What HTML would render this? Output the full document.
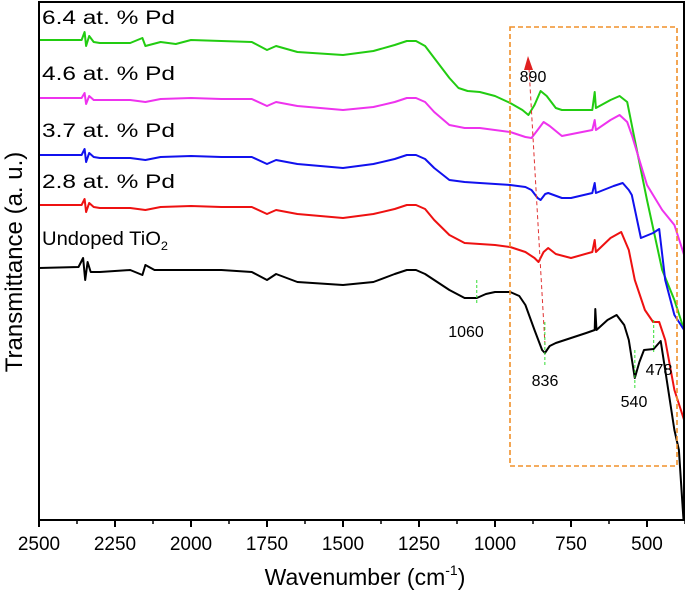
<!DOCTYPE html>
<html><head><meta charset="utf-8"><style>
body{margin:0;background:#fff}
svg{display:block;font-family:"Liberation Sans",Arial,sans-serif}
</style></head><body>
<svg id="chart" width="685" height="595" viewBox="0 0 685 595">
<g id="series"></g>
<g id="axes"></g>
</svg>
<script>
const xTicks=[2500,2250,2000,1750,1500,1250,1000,750,500];
const seriesNames=["6.4 at. % Pd","4.6 at. % Pd","3.7 at. % Pd","2.8 at. % Pd","Undoped TiO2"];
const seriesColors=["#22cc11","#ee33ee","#1111ee","#ee1111","#000000"];
const green=[[2500,480],[2360,480],[2350,488],[2345,474],[2335,484],[2320,478],[2300,477],[2200,477],[2160,482],[2150,474],[2100,478],[2050,476],[2000,480],[1900,479],[1800,478],[1750,470],[1720,474],[1650,468],[1500,465],[1400,469],[1330,475],[1290,479],[1260,479],[1230,474],[1200,462],[1150,442],[1120,432],[1090,429],[1050,428],[1000,424],[950,417],[910,410],[890,405],[870,415],[850,429],[830,424],[800,412],[780,410],[680,410],[672,428],[668,412],[620,420],[590,424],[565,418],[540,380],[500,320],[450,250],[410,220],[378,190]];
const magenta=[[2500,422],[2360,422],[2350,427],[2345,416],[2335,424],[2320,420],[2300,420],[2200,420],[2150,418],[2100,421],[2000,422],[1900,421],[1800,421],[1750,414],[1720,418],[1650,414],[1500,410],[1400,413],[1330,418],[1290,422],[1260,422],[1230,418],[1200,408],[1150,395],[1100,392],[1050,392],[950,388],[900,383],[880,382],[860,390],[840,398],[820,394],[780,384],[680,390],[672,400],[668,390],[620,400],[590,405],[565,398],[550,385],[500,335],[450,310],[410,295],[378,265]];
const blue=[[2500,365],[2360,365],[2350,371],[2345,358],[2335,367],[2320,363],[2300,362],[2200,362],[2150,360],[2100,363],[2000,364],[1900,363],[1800,363],[1750,356],[1720,360],[1650,356],[1500,352],[1400,356],[1330,361],[1290,365],[1260,365],[1230,361],[1200,352],[1150,340],[1100,338],[1050,337],[950,335],[900,333],[880,330],[860,322],[850,320],[835,326],[825,327],[780,322],[750,322],[680,327],[672,337],[668,327],[610,334],[580,337],[560,330],[550,325],[520,282],[480,287],[460,291],[440,240],[410,205],[378,190]];
const red=[[2500,315],[2360,315],[2350,321],[2345,308],[2335,317],[2320,313],[2300,312],[2200,312],[2150,310],[2100,313],[2000,314],[1900,313],[1800,313],[1750,306],[1720,310],[1650,306],[1500,302],[1400,306],[1330,311],[1290,315],[1260,315],[1230,311],[1200,300],[1150,285],[1100,277],[1000,275],[950,273],[900,268],[870,262],[857,258],[840,268],[825,272],[800,266],[750,262],[680,268],[672,280],[668,268],[620,282],[585,288],[560,270],[540,240],[507,210],[480,198],[460,198],[440,180],[410,130],[378,100]];
const black=[[2500,252],[2370,253],[2355,262],[2348,240],[2340,258],[2330,248],[2300,248],[2200,250],[2160,245],[2150,255],[2120,250],[2000,250],[1900,250],[1800,248],[1750,240],[1720,246],[1650,238],[1600,237],[1500,235],[1400,238],[1330,246],[1290,250],[1260,250],[1230,246],[1200,240],[1150,230],[1100,222],[1060,222],[1030,226],[1000,228],[950,228],[920,224],[900,215],[870,190],[845,170],[836,167],[820,174],[800,177],[750,182],[700,187],[672,190],[670,211],[666,190],[630,200],[600,205],[575,195],[560,180],[540,142],[525,158],[510,170],[478,171],[455,179],[440,150],[410,90],[395,70],[380,0]];
const allSeries=[green,magenta,blue,red,black];
const X0=39,X1=684,Y0=520,Y1=2;
function xs(w){return X0+(2500-w)*0.304;}
function ys(t){return 520-t;}
const NS="http://www.w3.org/2000/svg";
function mk(tag,attrs,parent){const e=document.createElementNS(NS,tag);for(const k in attrs)e.setAttribute(k,attrs[k]);parent.appendChild(e);return e;}
const sg=document.getElementById('series'),ag=document.getElementById('axes');
allSeries.forEach((s,i)=>{
  const p=mk('path',{d:s.map((pt,j)=>(j?'L':'M')+xs(pt[0]).toFixed(1)+','+ys(pt[1]).toFixed(1)).join(''),fill:'none',stroke:seriesColors[i],'stroke-width':2,'stroke-linejoin':'round'},sg);
  
  
});
const labY=[24,80,137,188,245];
seriesNames.forEach((n,i)=>{
  const t=mk('text',{x:42,y:labY[i],'font-size':19,textLength:i===4?126:133,lengthAdjust:'spacingAndGlyphs'},sg);
  
  
  if(i===4){t.textContent='Undoped TiO';const s=mk('tspan',{'font-size':12,dy:5},t);s.textContent='2';}
  else t.textContent=n;
});
const box=mk('rect',{x:510,y:27,width:167,height:439,fill:'none',stroke:'#f0902a','stroke-width':1.6,'stroke-dasharray':'5,3'},sg);


const ar=mk('line',{x1:545,y1:345,x2:529,y2:68,stroke:'#e03030','stroke-width':1,'stroke-dasharray':'4,3'},sg);


const ah=mk('polygon',{points:'528,56 524,70 533,70',fill:'#e02020'},sg);


const peaks=[[1060,280,305,466,337],[836,322,366,545,386],[540,350,390,634,407],[478,320,352,659,375]];
const peakLabels=["1060","836","540","478"];
peaks.forEach((p,i)=>{
  const l=mk('line',{x1:xs(p[0]),y1:p[1],x2:xs(p[0]),y2:p[2],stroke:'#33dd33','stroke-width':1,'stroke-dasharray':'3,2'},sg);
  
  
  const t=mk('text',{x:p[3],y:p[4],'font-size':16,'text-anchor':'middle'},sg);
  
  
  t.textContent=peakLabels[i];
});
const t890=mk('text',{x:533,y:82,'font-size':16,'text-anchor':'middle'},sg);


t890.textContent='890';
const fr=mk('rect',{x:X0,y:Y1,width:X1-X0,height:Y0-Y1,fill:'none',stroke:'#000','stroke-width':2},ag);


xTicks.forEach(v=>{
  const tk=mk('line',{x1:xs(v),y1:Y0,x2:xs(v),y2:Y0+7,stroke:'#000','stroke-width':2},ag);
  
  
  const mn=mk('line',{x1:xs(v-125),y1:Y0,x2:xs(v-125),y2:Y0+4,stroke:'#000','stroke-width':1.5},ag);
  
  
  const t=mk('text',{x:xs(v),y:Y0+30,'font-size':19,'text-anchor':'middle'},ag);
  
  
  t.textContent=v;
});
const xt=mk('text',{x:365,y:585,'font-size':23,'text-anchor':'middle'},ag);


xt.textContent='Wavenumber (cm';
const sup=mk('tspan',{'font-size':14,dy:-10},xt);sup.textContent='-1';
const cl=mk('tspan',{dy:10},xt);cl.textContent=')';
const yt=mk('text',{x:0,y:0,'font-size':24,'text-anchor':'middle',transform:'translate(22,262) rotate(-90)'},ag);


yt.textContent='Transmittance (a. u.)';
</script>
</body></html>
